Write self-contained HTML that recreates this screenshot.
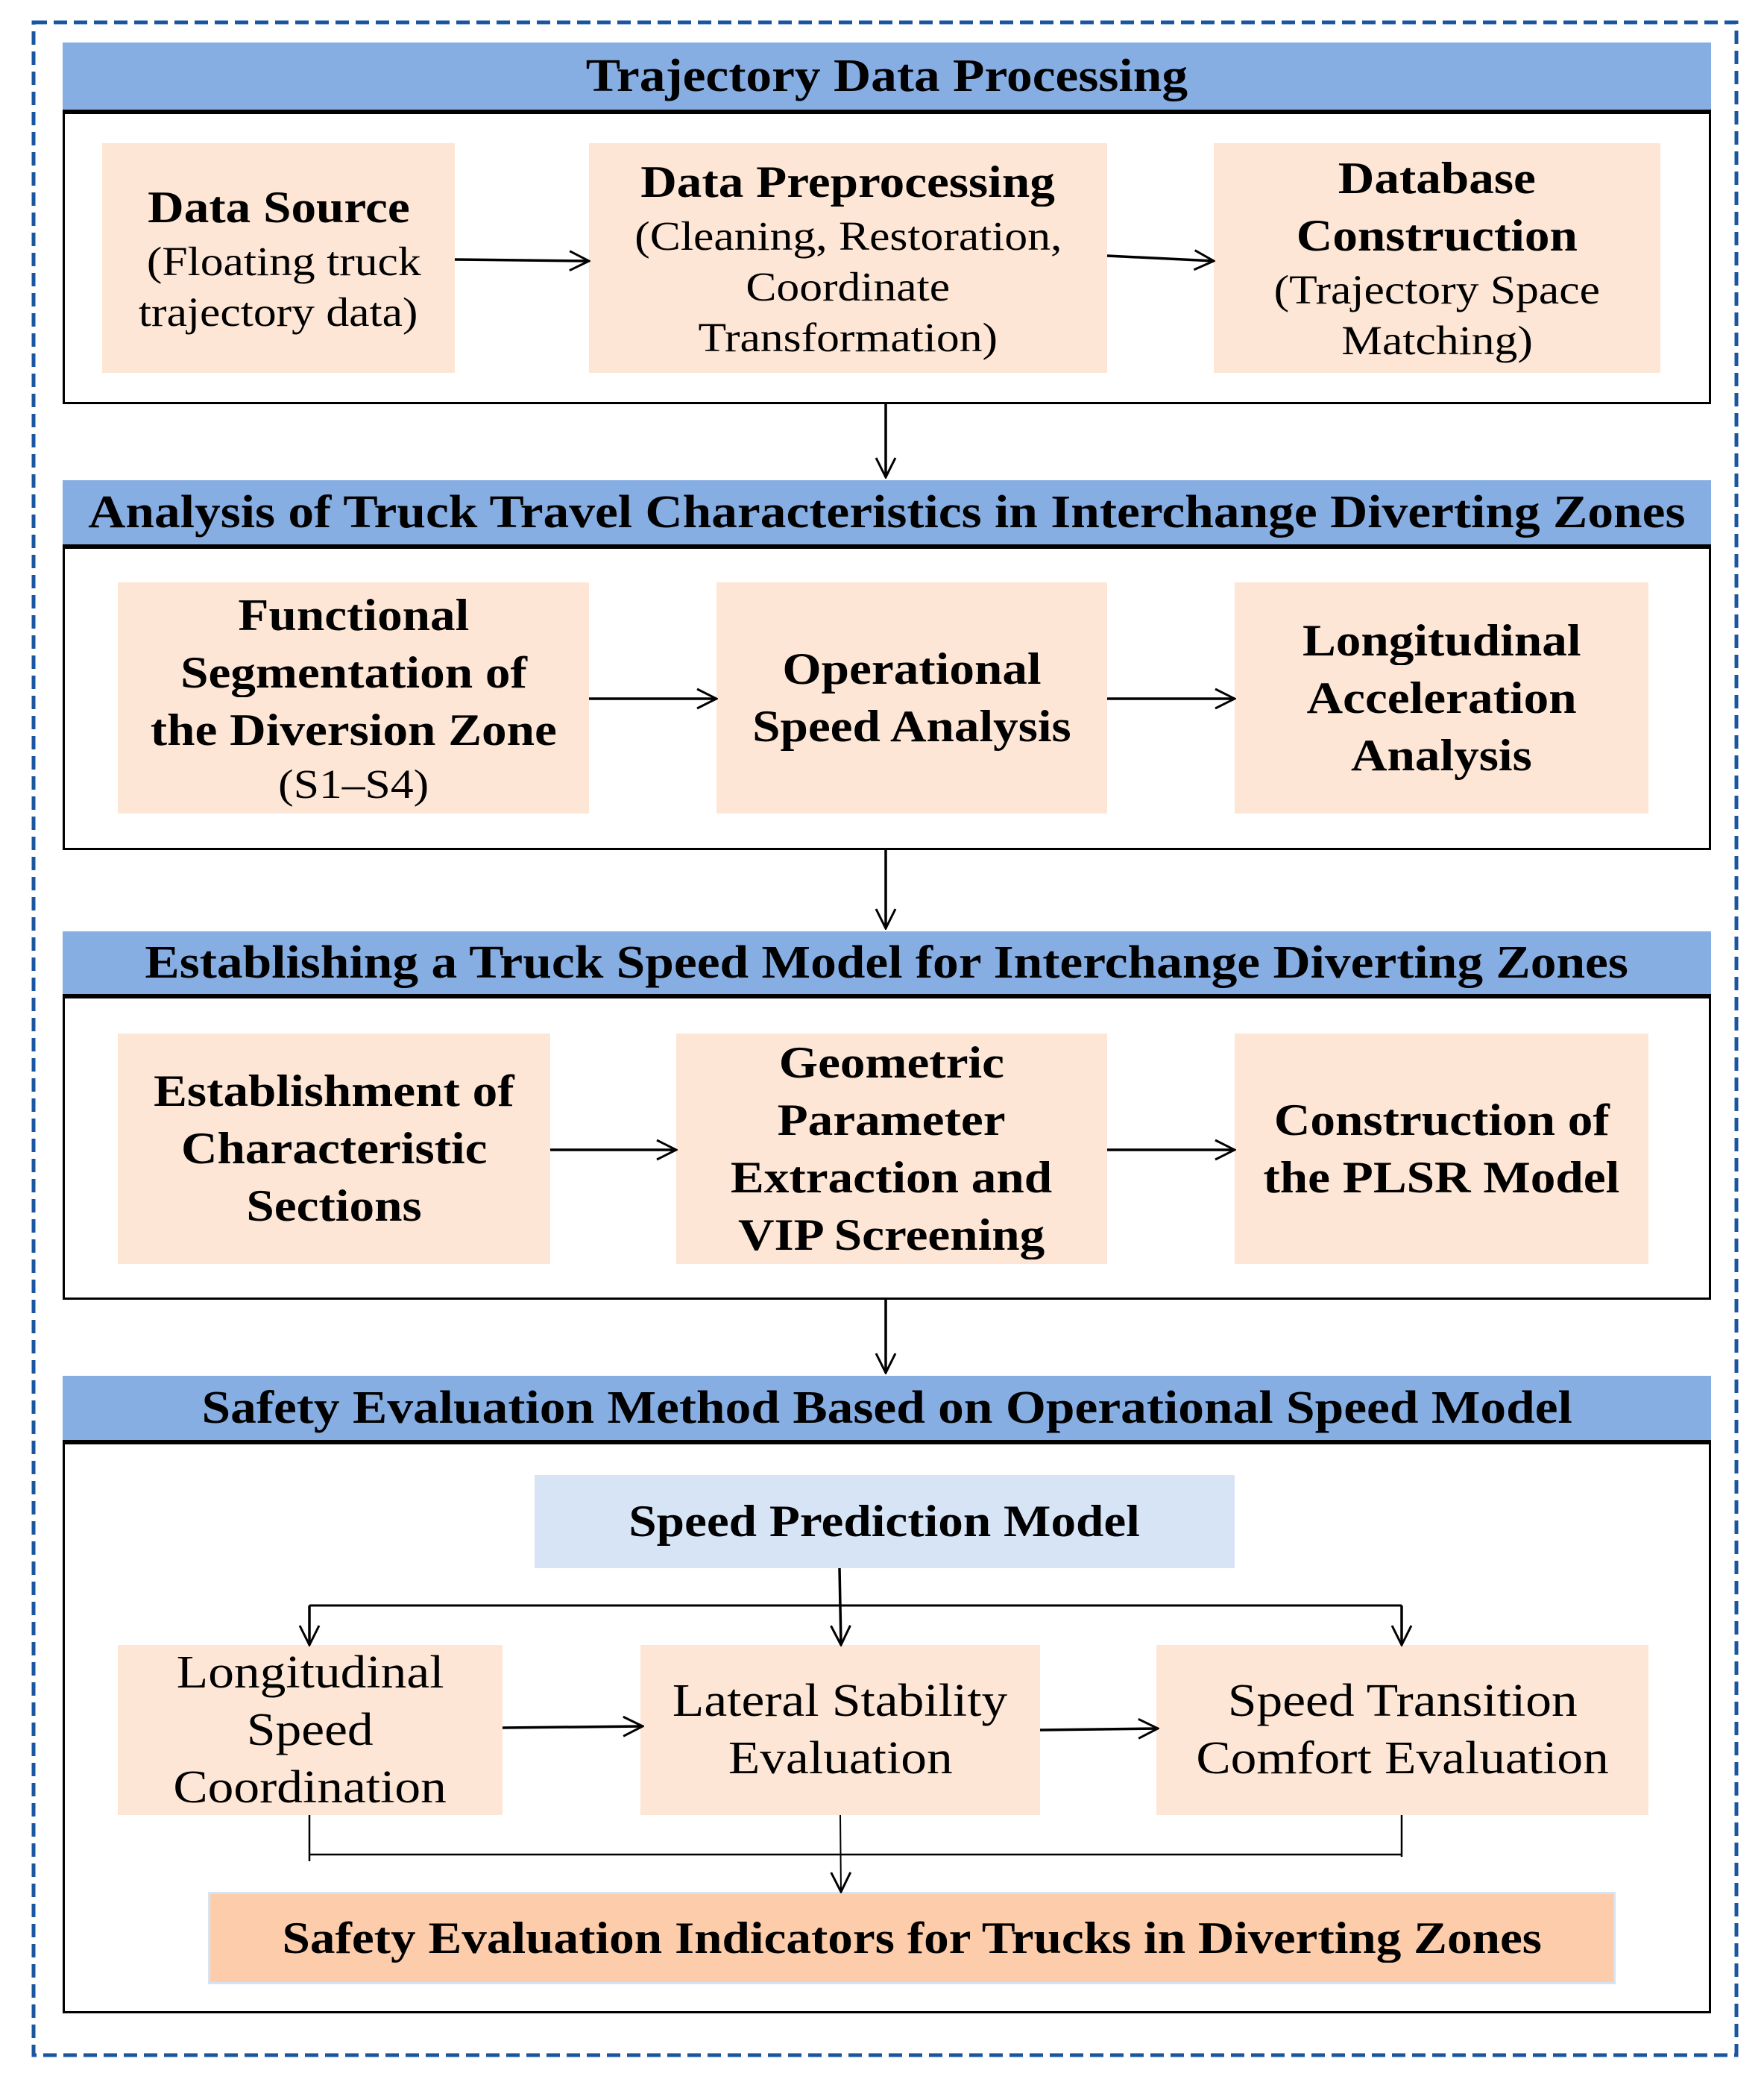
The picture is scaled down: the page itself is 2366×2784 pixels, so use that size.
<!DOCTYPE html>
<html><head><meta charset="utf-8"><style>
body{margin:0;width:2366px;height:2784px;background:#fff;position:relative;overflow:hidden;font-family:"Liberation Serif",serif;}
.a{position:absolute;box-sizing:border-box;}
.sec{border:3.5px solid #000;}
.hd{background:#86aee3;border-bottom:6px solid #000;display:flex;align-items:center;justify-content:center;font-weight:bold;font-size:62px;white-space:nowrap;}
.hd span{display:inline-block;transform:scaleX(1.12);}
.bx{background:#fde6d5;display:flex;flex-direction:column;align-items:center;justify-content:center;text-align:center;font-size:55px;line-height:68px;white-space:nowrap;}
.bx span{display:inline-block;transform:scaleX(1.12);}
.b{font-weight:bold;font-size:60px;line-height:77px;}
.c{font-size:62px;line-height:77px;}
</style></head><body>
<svg class="a" style="left:0;top:0" width="2366" height="2784"><rect x="45" y="30" width="2284" height="2726" fill="none" stroke="#1a56a0" stroke-width="5" stroke-dasharray="18 9"/></svg>

<div class="a sec" style="left:84px;top:57px;width:2211px;height:485px;"></div>
<div class="a hd" style="left:84px;top:57px;width:2211px;height:96px;"><span>Trajectory Data Processing</span></div>
<div class="a bx" style="left:137px;top:192px;width:473px;height:308px;"><span class="b">Data Source</span><span>&nbsp;(Floating truck</span><span>trajectory data)</span></div>
<div class="a bx" style="left:790px;top:192px;width:695px;height:308px;"><span class="b">Data Preprocessing</span><span>(Cleaning, Restoration,</span><span>Coordinate</span><span>Transformation)</span></div>
<div class="a bx" style="left:1628px;top:192px;width:599px;height:308px;"><span class="b">Database</span><span class="b">Construction</span><span>(Trajectory Space</span><span>Matching)</span></div>

<div class="a sec" style="left:84px;top:644px;width:2211px;height:496px;"></div>
<div class="a hd" style="left:84px;top:644px;width:2211px;height:92px;"><span>Analysis of Truck Travel Characteristics in Interchange Diverting Zones</span></div>
<div class="a bx" style="left:158px;top:781px;width:632px;height:310px;"><span class="b">Functional</span><span class="b">Segmentation of</span><span class="b">the Diversion Zone</span><span>(S1–S4)</span></div>
<div class="a bx" style="left:961px;top:781px;width:524px;height:310px;"><span class="b">Operational</span><span class="b">Speed Analysis</span></div>
<div class="a bx" style="left:1656px;top:781px;width:555px;height:310px;"><span class="b">Longitudinal</span><span class="b">Acceleration</span><span class="b">Analysis</span></div>

<div class="a sec" style="left:84px;top:1249px;width:2211px;height:494px;"></div>
<div class="a hd" style="left:84px;top:1249px;width:2211px;height:90px;"><span>Establishing a Truck Speed Model for Interchange Diverting Zones</span></div>
<div class="a bx" style="left:158px;top:1386px;width:580px;height:309px;"><span class="b">Establishment of</span><span class="b">Characteristic</span><span class="b">Sections</span></div>
<div class="a bx" style="left:907px;top:1386px;width:578px;height:309px;"><span class="b">Geometric</span><span class="b">Parameter</span><span class="b">Extraction and</span><span class="b">VIP Screening</span></div>
<div class="a bx" style="left:1656px;top:1386px;width:555px;height:309px;"><span class="b">Construction of</span><span class="b">the PLSR Model</span></div>

<div class="a sec" style="left:84px;top:1845px;width:2211px;height:855px;"></div>
<div class="a hd" style="left:84px;top:1845px;width:2211px;height:92px;"><span>Safety Evaluation Method Based on Operational Speed Model</span></div>
<div class="a bx" style="left:717px;top:1978px;width:939px;height:125px;background:#d7e4f5;"><span class="b">Speed Prediction Model</span></div>
<div class="a bx" style="left:158px;top:2206px;width:516px;height:228px;"><span class="c">Longitudinal</span><span class="c">Speed</span><span class="c">Coordination</span></div>
<div class="a bx" style="left:859px;top:2206px;width:536px;height:228px;"><span class="c">Lateral Stability</span><span class="c">Evaluation</span></div>
<div class="a bx" style="left:1551px;top:2206px;width:660px;height:228px;"><span class="c">Speed Transition</span><span class="c">Comfort Evaluation</span></div>
<div class="a bx" style="left:279px;top:2537px;width:1888px;height:124px;background:#fdcdab;border:3px solid #d5e3f5;"><span class="b">Safety Evaluation Indicators for Trucks in Diverting Zones</span></div>

<svg class="a" style="left:0;top:0" width="2366" height="2784" fill="none" stroke="#000">
<defs>
<marker id="n" viewBox="0 0 30 30" markerWidth="30" markerHeight="30" refX="28" refY="15" orient="auto" markerUnits="userSpaceOnUse"><path d="M2,2 L28,15 L2,28" stroke="#000" stroke-width="3" fill="none"/></marker></defs>
<g stroke-width="3.5" marker-end="url(#n)">
<path d="M610 348 L790 350"/><path d="M1485 343 L1628 350"/>
<path d="M790 937 L961 937"/><path d="M1485 937 L1656 937"/>
<path d="M738 1542 L907 1542"/><path d="M1485 1542 L1656 1542"/>
<path d="M1188 542 L1188 640"/><path d="M1188 1140 L1188 1245"/><path d="M1188 1743 L1188 1841"/>
<path d="M674 2317 L862 2315"/><path d="M1395 2320 L1553 2318"/>
<path d="M1126 2103 L1128 2206"/><path d="M415 2153 L415 2206"/><path d="M1880 2153 L1880 2206"/>
</g>
<path d="M415 2153 L1880 2153" stroke-width="3"/>
<path d="M415 2434 L415 2496 M1880 2434 L1880 2490 M415 2487 L1880 2487" stroke-width="2.5"/>
<path d="M1127 2434 L1128 2537" stroke-width="2" marker-end="url(#n)"/>
</svg>
</body></html>
